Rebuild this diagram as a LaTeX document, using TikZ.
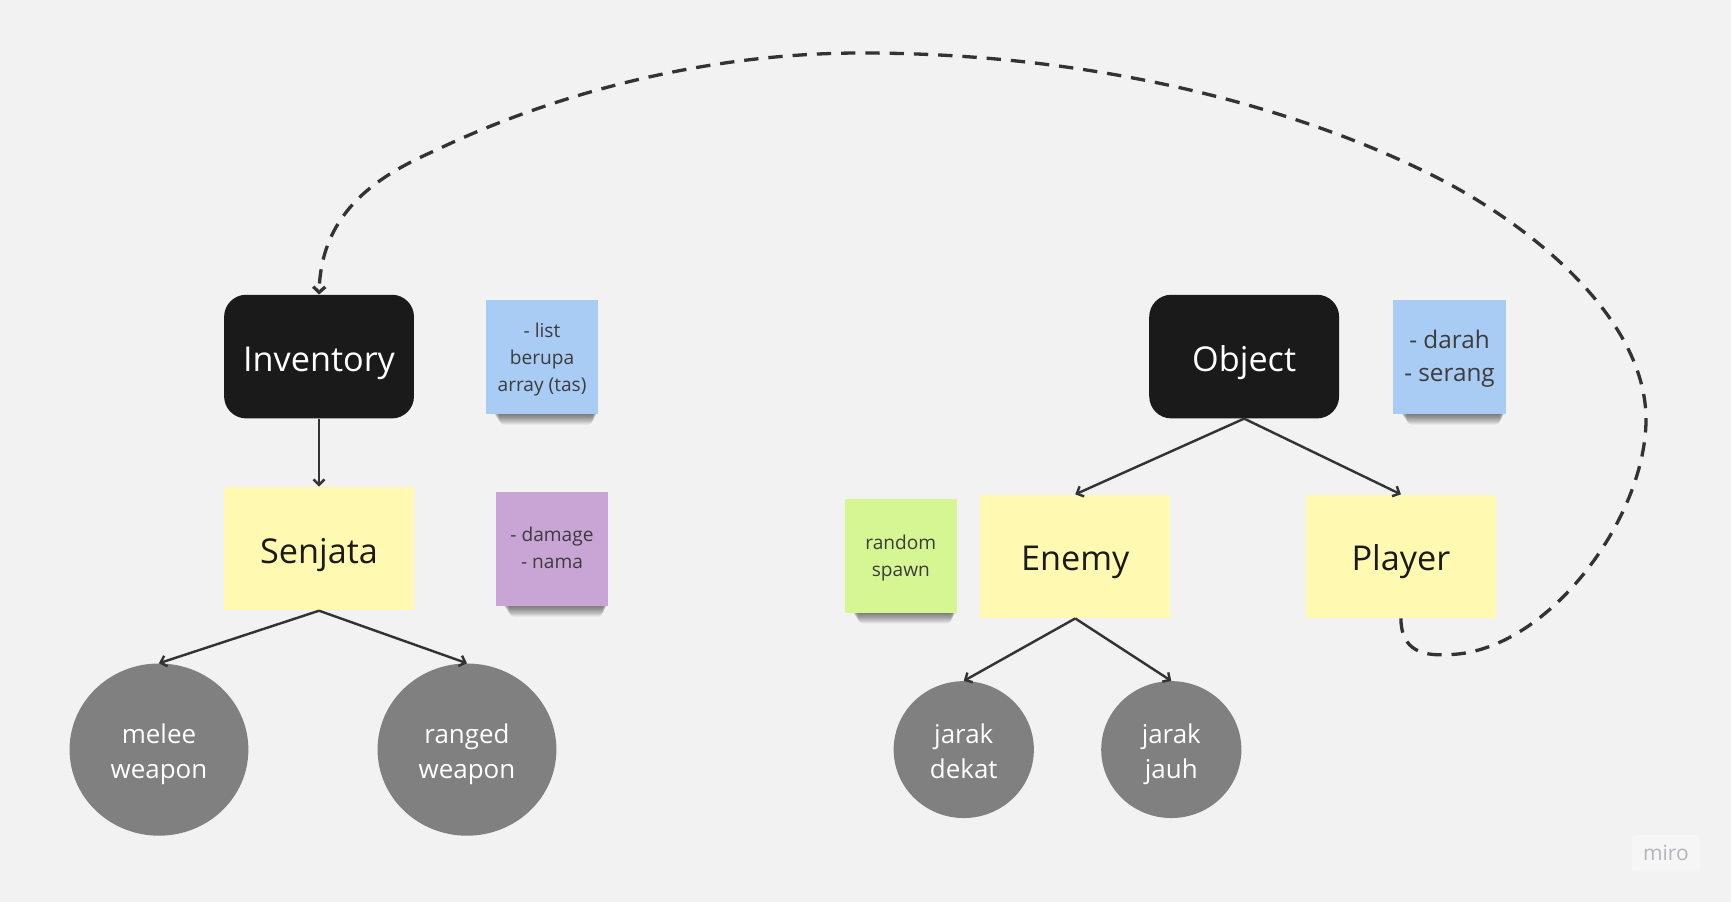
\documentclass[tikz,border=0pt]{standalone}
\usepackage{fontspec}
\setmainfont{Open Sans}
\usetikzlibrary{arrows.meta,shapes.geometric}
\definecolor{bg}{HTML}{F2F2F2}
\definecolor{nodeblack}{HTML}{1A1A1A}
\definecolor{stickyyellow}{HTML}{FFF9B1}
\definecolor{stickyblue}{HTML}{A8CCF4}
\definecolor{stickypurple}{HTML}{C8A5D5}
\definecolor{stickygreen}{HTML}{D5F692}
\definecolor{circlegray}{HTML}{808080}
\definecolor{linecol}{HTML}{333333}
\definecolor{textdark}{HTML}{1A1A1A}
\definecolor{mirogray}{HTML}{B4B4BC}
\newcommand{\lowtext}[2]{\raisebox{-#1}[\height][\depth]{\begin{tabular}{@{}c@{}}#2\end{tabular}}}
\tikzset{
  blackbox/.style={fill=nodeblack, rounded corners=20pt, minimum width=172pt, minimum height=112pt, inner sep=0pt, text=white, font=\fontsize{31}{36}\selectfont},
  yellowbox/.style={fill=stickyyellow, minimum width=172pt, minimum height=112pt, inner sep=0pt, text=textdark, font=\fontsize{31}{36}\selectfont},
  bigcirc/.style={ellipse, fill=circlegray, minimum width=162pt, minimum height=156pt, inner sep=0pt, text=white, font=\fontsize{23.5}{32}\selectfont},
  smallcirc/.style={ellipse, fill=circlegray, minimum width=127pt, minimum height=124pt, inner sep=0pt, text=white, font=\fontsize{23.5}{32}\selectfont},
  sticky/.style={minimum width=102pt, minimum height=103pt, inner sep=0pt, text=textdark!85},
  smalltext/.style={font=\fontsize{17.3}{24.5}\selectfont},
  midtext/.style={font=\fontsize{22}{30}\selectfont},
  conn/.style={draw=linecol, line width=2.2pt, -{Straight Barb[length=5pt,width=10pt]}},
  dashconn/.style={draw=linecol, line width=3pt, dash pattern=on 13pt off 9pt, -{Straight Barb[length=5pt,width=11pt]}},
}
\newcommand{\stickyshadow}[1]{%
  \foreach \i in {0,...,7}{
    \fill[black,opacity=0.075,rounded corners=4pt]
      ([xshift=7pt+\i*0.8pt,yshift=4pt]#1.south west) rectangle ([xshift=-1pt-\i*0.6pt,yshift=-1pt-\i*1.2pt]#1.south east);
  }}
\begin{document}
\begin{tikzpicture}[x=1pt,y=-1pt]
\fill[bg] (0,0) rectangle (1568,817);
\useasboundingbox (0,0) rectangle (1568,817);

% sticky notes (shadow first)
\path (491,323.5) node[sticky] (s1) {};
\path (500,497.5) node[sticky] (s2) {};
\path (816,503.5) node[sticky] (s3) {};
\path (1313,323.5) node[sticky] (s4) {};
\stickyshadow{s1}
\stickyshadow{s2}
\stickyshadow{s3}
\stickyshadow{s4}
\node[sticky, fill=stickyblue, smalltext] (note1) at (491,323.5) {\lowtext{1.5pt}{- list\\berupa\\array (tas)}};
\node[sticky, fill=stickypurple, smalltext] (note2) at (500,497.5) {\lowtext{0.5pt}{- damage\\- nama}};
\node[sticky, fill=stickygreen, smalltext] (note3) at (816,503.5) {\lowtext{2pt}{random\\spawn}};
\node[sticky, fill=stickyblue, midtext] (note4) at (1313,323.5) {\lowtext{1.5pt}{- darah\\- serang}};

% main nodes
\node[blackbox] (inv) at (289,323) {\lowtext{6pt}{Inventory}};
\node[yellowbox] (senj) at (289,497) {\lowtext{6pt}{Senjata}};
\node[bigcirc] (melee) at (144,679) {\lowtext{4pt}{melee\\weapon}};
\node[bigcirc] (ranged) at (423,679) {\lowtext{4pt}{ranged\\weapon}};

\node[blackbox] (obj) at (1127,323) {\lowtext{6pt}{Object}};
\node[yellowbox] (enemy) at (974,504) {\lowtext{6pt}{Enemy}};
\node[yellowbox] (player) at (1269,504) {\lowtext{6pt}{Player}};
\node[smallcirc] (dekat) at (873,679) {\lowtext{4pt}{jarak\\dekat}};
\node[smallcirc] (jauh) at (1061,679) {\lowtext{4pt}{jarak\\jauh}};

% connectors
\draw[conn] (inv.south) -- (senj.north);
\draw[conn] (senj.south) -- (melee.north);
\draw[conn] (senj.south) -- (ranged.north);
\draw[conn] (obj.south) -- (enemy.north);
\draw[conn] (obj.south) -- (player.north);
\draw[conn] (enemy.south) -- (dekat.north);
\draw[conn] (enemy.south) -- (jauh.north);

% dashed loop
\draw[dashconn] (player.south)
  .. controls (1269,590) and (1290,594) .. (1310,593)
  .. controls (1400,593) and (1491,470) .. (1491,380)
  .. controls (1491,290) and (1390,205) .. (1298,159)
  .. controls (1180,100) and (1000,48) .. (780,48)
  .. controls (620,48) and (480,95) .. (395,136)
  .. controls (345,158) and (291,190) .. (inv.north);

% miro logo
\node[fill=white, fill opacity=0.35, text opacity=1, rounded corners=3pt, minimum width=62pt, minimum height=33pt, text=mirogray, font=\fontsize{19}{20}\selectfont] (miro) at (1509,773) {miro};
\end{tikzpicture}
\end{document}
